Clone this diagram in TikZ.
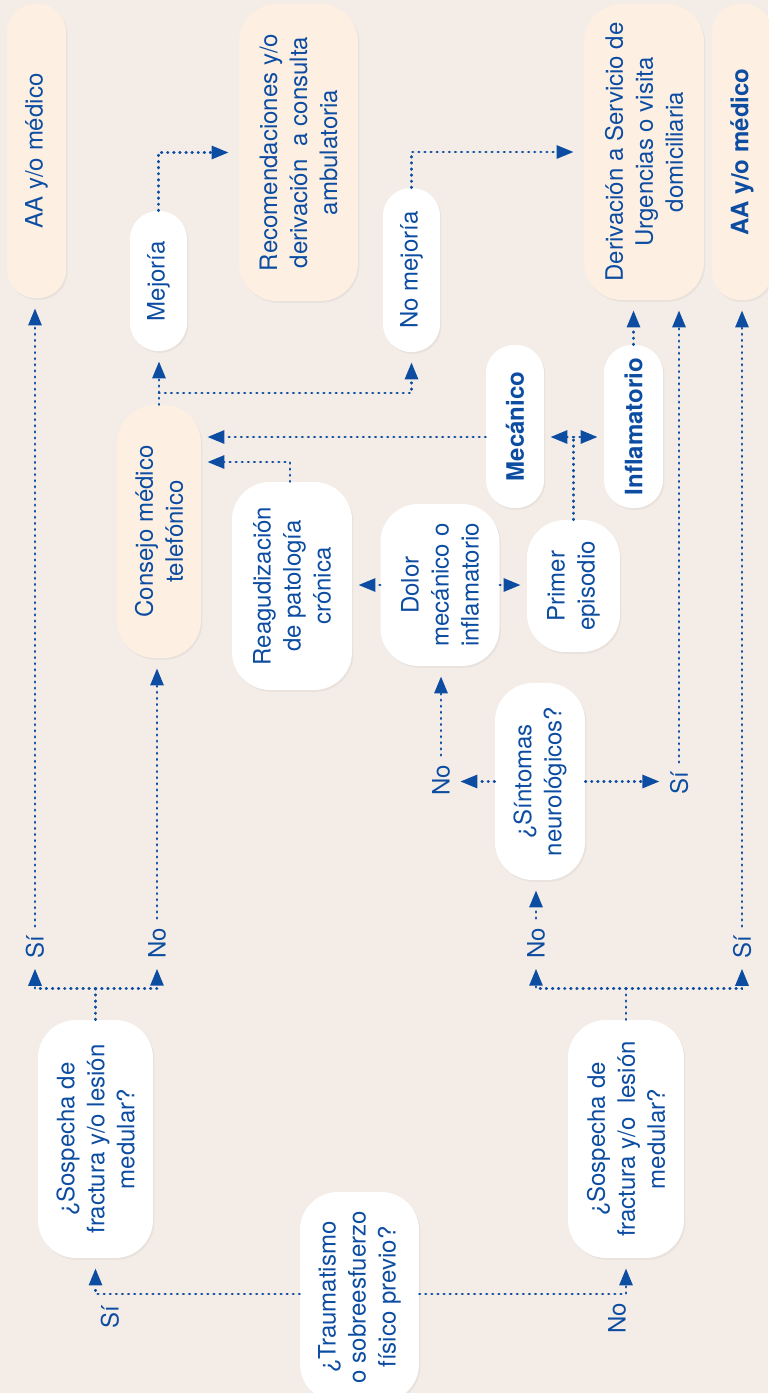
\documentclass[tikz,border=0pt]{standalone}
\usepackage{fontspec}
\setmainfont{TeX Gyre Heros}
\usetikzlibrary{arrows.meta,shadows,calc}
\definecolor{bg}{HTML}{F4EDE7}
\definecolor{peach}{HTML}{FDEFE2}
\definecolor{myblue}{HTML}{0C4DA2}
\tikzset{
  box/.style={rotate=90, rounded corners=14pt, fill=white, text=myblue, align=center, inner sep=0pt,
     font=\fontsize{12}{15}\selectfont,
     drop shadow={shadow xshift=0.7pt, shadow yshift=-0.9pt, opacity=0.10}},
  pbox/.style={box, fill=peach},
  wide/.style={rounded corners=19pt},
  sz/.style 2 args={minimum width=#1*0.5pt, minimum height=#2*0.5pt},
  lbl/.style={rotate=90, text=myblue, inner sep=0pt, font=\fontsize{12}{15}\selectfont},
  dots/.style={draw=myblue, line width=1.45pt, line cap=round, dash pattern=on 0.25pt off 2.8pt},
  conn/.style={dots, -{Triangle[length=8.5pt,width=6.5pt]}, shorten >=5pt},
  near/.style={shorten >=3pt},
  fromlbl/.style={shorten <=4.5pt}
}
\begin{document}
\begin{tikzpicture}[x=0.5pt,y=-0.5pt]
\fill[bg] (0,0) rectangle (768,1393);
\useasboundingbox (0,0) rectangle (768,1393);

% top row
\node[pbox, sz={294}{59}] (aa1) at (36.5,151) {AA y/o médico};
\node[box, sz={140}{57}] (mej) at (158.5,281) {Mejoría};
\node[pbox, wide, sz={297}{119}] (rec) at (298.5,152.5) {Recomendaciones y/o\\derivación~~a consulta\\ambulatoria};
\node[box, sz={164}{57}] (nomej) at (411.5,270) {No mejoría};
\node[pbox, wide, sz={296}{120}] (der) at (644,152) {Derivación a Servicio de\\Urgencias o visita\\domiciliaria};
\node[pbox, sz={296}{60}, font=\fontsize{12}{15}\selectfont\bfseries] (aa2) at (742,152) {AA y/o médico};

% middle
\node[pbox, wide, sz={253}{84}] (cons) at (159,531.5) {Consejo médico\\telefónico};
\node[box, wide, sz={208}{120}] (reag) at (292,586) {Reagudización\\de patología\\crónica};
\node[box, sz={163}{58}, font=\fontsize{12}{15}\selectfont\bfseries] (mec) at (515,426.5) {Mecánico};
\node[box, sz={163}{59}, font=\fontsize{12}{15}\selectfont\bfseries] (inf) at (633.5,426.5) {Inflamatorio};
\node[box, wide, sz={162}{119}] (dolor) at (440,585) {Dolor\\mecánico o\\inflamatorio};
\node[box, wide, sz={132}{93}] (primer) at (573.5,586) {Primer\\episodio};
\node[box, wide, sz={197}{90}] (sint) at (540,781.5) {¿Síntomas\\neurológicos?};

% bottom
\node[box, wide, sz={238}{115}] (sosp1) at (95.5,1139) {¿Sospecha de\\fractura y/o lesión\\medular?};
\node[box, wide, sz={210}{119}] (traum) at (359.5,1297) {¿Traumatismo\\o sobreesfuerzo\\físico previo?};
\node[box, wide, sz={238}{116}] (sosp2) at (626,1139) {¿Sospecha de\\fractura y/o~~lesión\\medular?};

% labels
\node[lbl] (siA) at (35,947) {Sí};
\node[lbl] (noA) at (157,943) {No};
\node[lbl] (noB) at (536,943) {No};
\node[lbl] (siB) at (742,947) {Sí};
\node[lbl] (siT) at (110,1317) {Sí};
\node[lbl] (noT) at (617,1318) {No};
\node[lbl] (noC) at (441,780) {No};
\node[lbl] (siC) at (679,783) {Sí};

% connectors
\coordinate (yt) at (0,1294);
\draw[conn] (traum.north |- yt) -| (sosp1.west);
\draw[conn] (traum.south |- yt) -| (sosp2.west);
\draw[dots] (sosp1.east) -- ++(0,-31) coordinate (j1);
\draw[conn] (j1) -| (siA.west);
\draw[conn] (j1) -| (noA.west);
\draw[conn, fromlbl] (siA.east) -- (siA.east |- aa1.west);
\draw[conn, fromlbl] (noA.east) -- (noA.east |- cons.west);
\draw[dots] (sosp2.east) -- ++(0,-31) coordinate (j2);
\draw[conn] (j2) -| (noB.west);
\draw[conn] (j2) -| (siB.west);
\draw[conn, fromlbl] (noB.east) -- (noB.east |- sint.west);
\draw[conn, fromlbl] (siB.east) -- (siB.east |- aa2.west);

\draw[conn] (sint.north) -- (sint.north -| noC.south);
\draw[conn, fromlbl] (noC.east) -- (noC.east |- dolor.west);
\draw[conn] (sint.south) -- (sint.south -| siC.north);
\draw[conn, fromlbl] (siC.east) -- (siC.east |- der.west);

\draw[conn, near] (dolor.north) -- (dolor.north -| reag.south);
\draw[conn, near] (dolor.south) -- (dolor.south -| primer.north);
\coordinate (rb) at (290,462);
\draw[conn, near] (reag.east -| rb) -- (rb) -- (rb -| cons.south);
\coordinate (ym) at (0,437);
\draw[conn, near] (mec.north |- ym) -- (cons.south |- ym);
\draw[dots] (primer.east) -- (primer.east |- ym) coordinate (j3);
\draw[conn, near] (j3) -- (mec.south |- ym);
\draw[conn, near] (j3) -- (inf.north |- ym);
\draw[conn] (inf.east) -- (inf.east |- der.west);

\draw[conn] (cons.east) -- (cons.east |- mej.west);
\coordinate (yc) at (0,393);
\draw[conn] (cons.east |- yc) -| (nomej.west);
\draw[conn] (mej.east) |- (rec.north);
\draw[conn] (nomej.east) |- (der.north);
\end{tikzpicture}
\end{document}
